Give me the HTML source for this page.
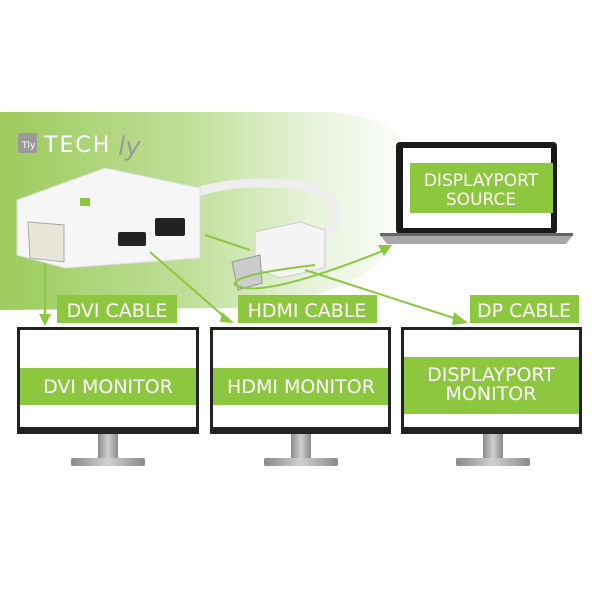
<!DOCTYPE html>
<html><head><style>
html,body{margin:0;padding:0;background:#fff;width:600px;height:600px;overflow:hidden}
text{font-family:"DejaVu Sans","Liberation Sans",sans-serif;fill:#fff}
</style></head><body>
<svg width="600" height="600" viewBox="0 0 600 600" xmlns="http://www.w3.org/2000/svg">
<defs>
<linearGradient id="bg" x1="0" y1="0" x2="1" y2="0">
<stop offset="0" stop-color="#9ccb5c"/><stop offset="0.45" stop-color="#bfdf98"/><stop offset="0.75" stop-color="#e8f3dc"/><stop offset="1" stop-color="#fff"/>
</linearGradient>
<linearGradient id="stand" x1="0" y1="0" x2="1" y2="0">
<stop offset="0" stop-color="#8a8a8a"/><stop offset="0.5" stop-color="#d0d0d0"/><stop offset="1" stop-color="#8a8a8a"/>
</linearGradient>
</defs>
<path d="M0 112 L330 112 Q420 118 420 190 Q400 300 230 308 L0 310 Z" fill="url(#bg)"/>
<!-- logo -->
<rect x="18" y="133" width="19" height="20" rx="2" fill="#9a9a9a"/>
<text x="22" y="148" font-size="9" style="fill:#fff">Tly</text>
<text x="44" y="152" font-size="22" style="fill:#fff;letter-spacing:2px">TECH</text>
<text x="118" y="155" font-size="26" font-style="italic" style="fill:#9a9a9a">ly</text>
<!-- cable -->
<path d="M190 195 Q230 178 300 185 Q350 195 330 230 L300 248" fill="none" stroke="#eee" stroke-width="9"/>
<!-- adapter -->
<path d="M17 200 L105 168 L200 188 L200 258 L65 268 L17 255 Z" fill="#f6f6f6" stroke="#ddd"/>
<path d="M28 222 L64 225 L64 262 L30 258 Z" fill="#e8e6d8" stroke="#aaa"/>
<rect x="118" y="232" width="28" height="14" rx="2" fill="#222"/>
<rect x="155" y="218" width="30" height="18" rx="2" fill="#222"/>
<rect x="80" y="198" width="10" height="8" fill="#8dc63f"/>
<!-- dp plug -->
<path d="M255 232 L300 222 L325 230 L325 268 L280 278 L255 268 Z" fill="#f4f4f4" stroke="#ccc"/>
<path d="M232 262 L260 255 L262 283 L238 290 Z" fill="#ccc" stroke="#999"/>
<!-- arrows -->
<g stroke="#8dc63f" stroke-width="2" fill="none">
<line x1="45" y1="263" x2="45" y2="318"/>
<line x1="150" y1="252" x2="228" y2="320"/>
<line x1="205" y1="235" x2="250" y2="250"/>
<line x1="305" y1="270" x2="460" y2="320"/>
<path d="M315 265 Q230 275 235 285 Q260 300 385 250"/>
</g>
<g fill="#8dc63f">
<path d="M39 314 L45 326 L51 314 Z"/>
<path d="M222 312 L234 323 L220 322 Z"/>
<path d="M454 312 L468 323 L452 325 Z"/>
<path d="M378 245 L392 245 L384 256 Z"/>
</g>
<!-- laptop -->
<rect x="396" y="142" width="161" height="92" rx="4" fill="#1a1a1a"/>
<rect x="403" y="148" width="148" height="80" fill="#fff"/>
<rect x="410" y="163" width="143" height="50" fill="#8dc63f"/>
<text x="481" y="186" font-size="17" text-anchor="middle">DISPLAYPORT</text>
<text x="481" y="205" font-size="17" text-anchor="middle">SOURCE</text>
<path d="M380 235 L573 235 L566 244 L387 244 Z" fill="#a8a8a8"/>
<rect x="380" y="233" width="193" height="3" fill="#666"/>
<!-- labels -->
<rect x="57" y="295" width="120" height="28" fill="#8dc63f"/>
<text x="117" y="317" font-size="19" text-anchor="middle">DVI CABLE</text>
<rect x="238" y="295" width="139" height="28" fill="#8dc63f"/>
<text x="307" y="317" font-size="19" text-anchor="middle">HDMI CABLE</text>
<rect x="470" y="295" width="109" height="28" fill="#8dc63f"/>
<text x="524" y="317" font-size="19" text-anchor="middle">DP CABLE</text>
<!-- monitors -->
<g>
<rect x="17" y="327" width="182" height="107" fill="#222"/>
<rect x="20" y="330" width="176" height="97" fill="#fff"/>
<rect x="20" y="368" width="176" height="37" fill="#8dc63f"/>
<text x="108" y="393" font-size="19" text-anchor="middle">DVI MONITOR</text>
<rect x="98" y="434" width="20" height="25" fill="url(#stand)"/>
<rect x="71" y="458" width="74" height="8" rx="2" fill="url(#stand)"/>
</g>
<g>
<rect x="210" y="327" width="181" height="107" fill="#222"/>
<rect x="213" y="330" width="175" height="97" fill="#fff"/>
<rect x="213" y="368" width="175" height="37" fill="#8dc63f"/>
<text x="301" y="393" font-size="19" text-anchor="middle">HDMI MONITOR</text>
<rect x="291" y="434" width="20" height="25" fill="url(#stand)"/>
<rect x="264" y="458" width="74" height="8" rx="2" fill="url(#stand)"/>
</g>
<g>
<rect x="401" y="327" width="181" height="107" fill="#222"/>
<rect x="404" y="330" width="175" height="97" fill="#fff"/>
<rect x="404" y="357" width="175" height="57" fill="#8dc63f"/>
<text x="491" y="381" font-size="19" text-anchor="middle">DISPLAYPORT</text>
<text x="491" y="400" font-size="19" text-anchor="middle">MONITOR</text>
<rect x="483" y="434" width="20" height="25" fill="url(#stand)"/>
<rect x="456" y="458" width="74" height="8" rx="2" fill="url(#stand)"/>
</g>
</svg>
</body></html>
